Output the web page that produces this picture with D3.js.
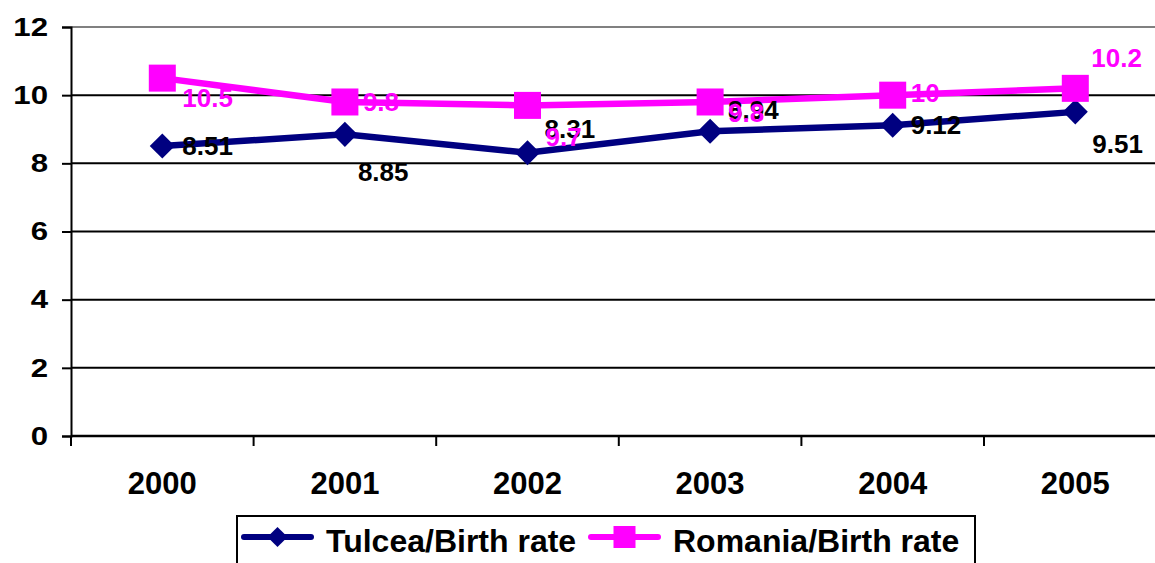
<!DOCTYPE html>
<html>
<head>
<meta charset="utf-8">
<script src="https://cdn.jsdelivr.net/npm/d3@7"></script>
<style>
  body { margin: 0; background: #fff; }
  svg { display: block; font-family: "Liberation Sans", Arial, sans-serif; font-weight: bold; }
</style>
</head>
<body>
<svg id="chart" width="1155" height="563"></svg>
<script>
// data
const years = ['2000', '2001', '2002', '2003', '2004', '2005'];
const tulcea = [8.51, 8.85, 8.31, 8.94, 9.12, 9.51];
const romania = [10.5, 9.8, 9.7, 9.8, 10, 10.2];
const yTicks = [0, 2, 4, 6, 8, 10, 12];
const seriesNames = ['Tulcea/Birth rate', 'Romania/Birth rate'];

// label placement (dx, dy from the point) - excel put them all over the place
const tulceaLabelPos = [[20, 9], [13, 47], [17, -15], [18, -12], [18, 9], [17, 41]];
const romaniaLabelPos = [[20, 29], [18, 9], [18, 41], [18, 20], [18, 7], [16, -21]];

const navy = '#000080';
const pink = '#ff00ff';

let svg = d3.select('#chart');

let plotLeft = 71, plotTop = 27, plotBottom = 436;
let bandW = 182.6;

let x = d3.scaleBand()
  .domain(years)
  .range([plotLeft, plotLeft + bandW * years.length]);

let y = d3.scaleLinear()
  .domain([0, 12])
  .range([plotBottom, plotTop]);

// gridlines
svg.append('g')
  .selectAll('line')
  .data(yTicks.filter(d => d > 0))
  .enter()
  .append('line')
  .attr('x1', plotLeft)
  .attr('x2', 1155)
  .attr('y1', d => y(d))
  .attr('y2', d => y(d))
  .attr('stroke', d => d == 12 ? '#808080' : '#000')
  .attr('stroke-width', 2);

// y axis
let yAxis = svg.append('g')
  .attr('transform', `translate(${plotLeft},0)`)
  .call(d3.axisLeft(y).tickValues(yTicks).tickSize(9).tickPadding(14));
yAxis.select('.domain').attr('stroke', '#000').attr('stroke-width', 2);
yAxis.selectAll('.tick line').attr('stroke', '#000').attr('stroke-width', 2);
yAxis.selectAll('.tick text')
  .attr('font-size', 26)
  .attr('font-family', '"Liberation Sans", Arial, sans-serif')
  .attr('font-weight', 'bold')
  .attr('fill', '#000')
  .each(function() {
    // the reference digits are a bit wider than plain arial
    let w = this.getComputedTextLength();
    d3.select(this).attr('textLength', w * 1.2).attr('lengthAdjust', 'spacingAndGlyphs');
  });

// x axis, ticks sit on band edges
let xAxis = svg.append('g')
  .attr('transform', `translate(0,${plotBottom})`);
xAxis.append('line')
  .attr('x1', plotLeft).attr('x2', 1155)
  .attr('y1', 0).attr('y2', 0)
  .attr('stroke', '#000').attr('stroke-width', 2.5);
xAxis.selectAll('line.tk')
  .data(years)
  .enter()
  .append('line')
  .attr('class', 'tk')
  .attr('x1', d => x(d)).attr('x2', d => x(d))
  .attr('y1', 0).attr('y2', 10)
  .attr('stroke', '#000').attr('stroke-width', 2);
xAxis.selectAll('text')
  .data(years)
  .enter()
  .append('text')
  .attr('x', d => x(d) + x.bandwidth() / 2)
  .attr('y', 58)
  .attr('text-anchor', 'middle')
  .attr('font-size', 31)
  .attr('fill', '#000')
  .text(d => d);

let cx = (d, i) => x(years[i]) + x.bandwidth() / 2;

let line = d3.line()
  .x((d, i) => cx(d, i))
  .y(d => y(d));

let diamond = d3.symbol().type(d3.symbolDiamond2).size(400);

// Tulcea
svg.append('path')
  .datum(tulcea)
  .attr('d', line)
  .attr('fill', 'none')
  .attr('stroke', navy)
  .attr('stroke-width', 6.5);
svg.selectAll('path.dia')
  .data(tulcea)
  .enter()
  .append('path')
  .attr('class', 'dia')
  .attr('d', diamond)
  .attr('transform', (d, i) => `translate(${cx(d, i)},${y(d)})`)
  .attr('fill', navy);

// Romania
svg.append('path')
  .datum(romania)
  .attr('d', line)
  .attr('fill', 'none')
  .attr('stroke', pink)
  .attr('stroke-width', 6.5);
svg.selectAll('rect.sq')
  .data(romania)
  .enter()
  .append('rect')
  .attr('class', 'sq')
  .attr('x', (d, i) => cx(d, i) - 13.5)
  .attr('y', d => y(d) - 13.5)
  .attr('width', 27)
  .attr('height', 27)
  .attr('fill', pink);

// data labels
svg.selectAll('text.lt')
  .data(tulcea)
  .enter()
  .append('text')
  .attr('class', 'lt')
  .attr('x', (d, i) => cx(d, i) + tulceaLabelPos[i][0])
  .attr('y', (d, i) => y(d) + tulceaLabelPos[i][1])
  .attr('font-size', 26)
  .attr('fill', '#000')
  .text(d => d);

svg.selectAll('text.lr')
  .data(romania)
  .enter()
  .append('text')
  .attr('class', 'lr')
  .attr('x', (d, i) => cx(d, i) + romaniaLabelPos[i][0])
  .attr('y', (d, i) => y(d) + romaniaLabelPos[i][1])
  .attr('font-size', 26)
  .attr('fill', pink)
  .text(d => d);

// legend
let lg = svg.append('g');
lg.append('rect')
  .attr('x', 237).attr('y', 516)
  .attr('width', 738).attr('height', 60)
  .attr('fill', '#fff')
  .attr('stroke', '#000')
  .attr('stroke-width', 2);

let items = [
  { name: seriesNames[0], color: navy, x0: 244, tx: 326 },
  { name: seriesNames[1], color: pink, x0: 591, tx: 673 }
];
items.forEach((it, k) => {
  lg.append('line')
    .attr('x1', it.x0).attr('x2', it.x0 + 67)
    .attr('y1', 537).attr('y2', 537)
    .attr('stroke', it.color)
    .attr('stroke-width', 6)
    .attr('stroke-linecap', 'round');
  if (k == 0) {
    lg.append('path')
      .attr('d', d3.symbol().type(d3.symbolDiamond2).size(260))
      .attr('transform', `translate(${it.x0 + 33.5},537)`)
      .attr('fill', it.color);
  } else {
    lg.append('rect')
      .attr('x', it.x0 + 33.5 - 11).attr('y', 526)
      .attr('width', 22).attr('height', 22)
      .attr('fill', it.color);
  }
  lg.append('text')
    .attr('x', it.tx)
    .attr('y', 552)
    .attr('font-size', 32)
    .attr('fill', '#000')
    .text(it.name);
});
</script>
</body>
</html>
